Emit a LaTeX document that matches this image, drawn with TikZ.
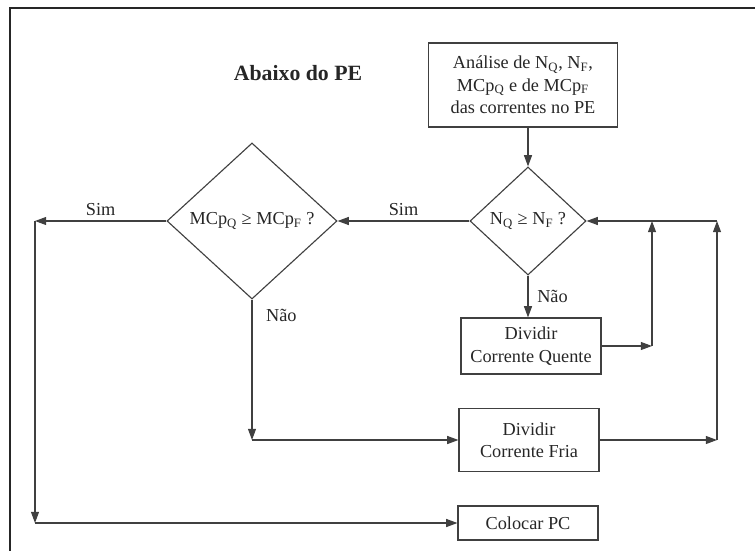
\documentclass[tikz,border=0pt]{standalone}
\usepackage{fontspec}
\setmainfont{Liberation Serif}
\usetikzlibrary{arrows.meta,shapes.geometric,positioning}

\begin{document}
\begin{tikzpicture}[x=0.025cm,y=-0.025cm,
  every node/.style={font=\fontsize{13}{16}\selectfont, text=black!85},
  caixa/.style={draw=black!75, line width=0.8pt, align=center, inner sep=2pt},
  decisao/.style={diamond, draw=black!75, line width=0.8pt, inner sep=0pt},
  seta/.style={draw=black!75, line width=0.8pt, -{Triangle[length=2.8mm,width=2mm]}}]
\useasboundingbox (0,0) rectangle (755,551);
\draw[black!85, line width=1.3pt] (755,8) -- (10,8) -- (10,551);

\node (titulo) at (298,73) {\fontsize{15.5}{18}\selectfont\bfseries Abaixo do PE};
\node[caixa, minimum width=4.725cm, minimum height=2.1cm] (analise) at (523,85)
  {Análise de N\textsubscript{Q}, N\textsubscript{F},\\MCp\textsubscript{Q} e de MCp\textsubscript{F}\\das correntes no PE};
\node[decisao, minimum width=2.9cm, minimum height=2.7cm] (nq) at (528,221) {N\textsubscript{Q} ≥ N\textsubscript{F} ?};
\node[decisao, minimum width=4.25cm, minimum height=3.9cm] (mcp) at (252,221) {MCp\textsubscript{Q} ≥ MCp\textsubscript{F} ?};
\node[caixa, minimum width=3.5cm, minimum height=1.4cm] (quente) at (531,346) {Dividir\\Corrente Quente};
\node[caixa, minimum width=3.5cm, minimum height=1.575cm] (fria) at (529,440) {Dividir\\Corrente Fria};
\node[caixa, minimum width=3.5cm, minimum height=0.85cm] (pc) at (528,523) {Colocar PC};

% pontos de canto
\coordinate (esq) at (mcp.west -| 35,0);
\coordinate (q1) at (quente.east -| 652,0);
\coordinate (q2) at (nq.east -| 652,0);
\coordinate (f1) at (fria.east -| 717,0);
\coordinate (f2) at (nq.east -| 717,0);

\draw[seta] (analise.south -| nq.north) -- (nq.north);
\draw[seta] (nq.west) -- node[above] {Sim} (mcp.east);
\draw[seta] (mcp.west) -- node[above] {Sim} (esq);
\draw[seta] (esq) -- (esq |- pc.west);
\draw[seta] (esq |- pc.west) -- (pc.west);
\draw[seta] (mcp.south) -- node[pos=0.11, anchor=west, xshift=0.22cm] {Não} (mcp.south |- fria.west);
\draw[seta] (mcp.south |- fria.west) -- (fria.west);
\draw[seta] (nq.south) -- node[anchor=west, xshift=0.1cm] {Não} (nq.south |- quente.north);
\draw[seta] (quente.east) -- (q1);
\draw[seta] (q1) -- (q2);
\draw[seta] (fria.east) -- (f1);
\draw[seta] (f1) -- (f2);
\draw[seta] (f2) -- (nq.east);
\end{tikzpicture}
\end{document}
